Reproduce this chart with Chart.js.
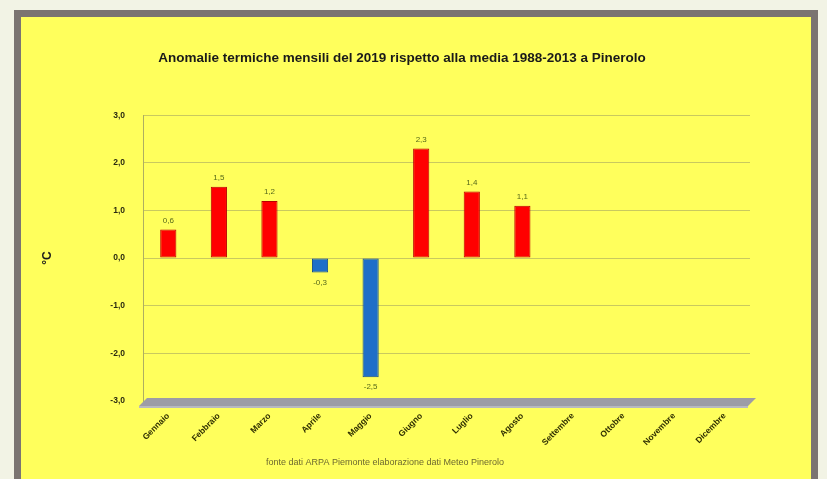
<!DOCTYPE html>
<html lang="it">
<head>
<meta charset="UTF-8">
<title>Anomalie termiche mensili 2019 - Pinerolo</title>
<script src="https://cdn.jsdelivr.net/npm/chart.js"></script>
<style>
    body, html {
        margin: 0;
        padding: 0;
        width: 827px;
        height: 479px;
        background: #f2f3e5;
        overflow: hidden;
    }
    #frame {
        position: absolute;
        left: 14px;
        top: 10px;
        width: 790px;
        height: 480px;
        border: 7px solid #7b7471;
        background: #ffff5c;
    }
    #chart-container {
        position: absolute;
        left: 0;
        top: 0;
        width: 827px;
        height: 479px;
    }
</style>
</head>
<body>

<div id="frame"></div>
<div id="chart-container">
    <canvas id="anomalie"></canvas>
</div>

<script>
    const mesi = ['Gennaio', 'Febbraio', 'Marzo', 'Aprile', 'Maggio', 'Giugno',
                  'Luglio', 'Agosto', 'Settembre', 'Ottobre', 'Novembre', 'Dicembre'];
    const anomalie = [0.6, 1.5, 1.2, -0.3, -2.5, 2.3, 1.4, 1.1, null, null, null, null];
    const yTicks = [-3, -2, -1, 0, 1, 2, 3];

    const fmt = v => v.toFixed(1).replace('.', ',');

    // title sits a bit right of the plot centre in the original
    const titleShift = {
        id: 'titleShift',
        afterLayout(chart) {
            if (chart.titleBlock) {
                chart.titleBlock.left += 12;
                chart.titleBlock.right += 12;
            }
        }
    };

    // gray floor under the plot, like the 3D excel chart
    const floorPlugin = {
        id: 'floor',
        beforeDatasetsDraw(chart) {
            const { ctx, chartArea: a, scales } = chart;
            const yb = scales.y.getPixelForValue(-3);
            ctx.save();
            ctx.fillStyle = '#9d9ca6';
            ctx.beginPath();
            ctx.moveTo(a.left - 4, yb + 5);
            ctx.lineTo(a.left + 4, yb - 3);
            ctx.lineTo(a.right + 6, yb - 3);
            ctx.lineTo(a.right - 2, yb + 5);
            ctx.closePath();
            ctx.fill();
            ctx.fillStyle = '#b8b8c0';
            ctx.fillRect(a.left - 4, yb + 5, a.right - a.left + 2, 2);
            ctx.restore();
        }
    };

    const labelPlugin = {
        id: 'valori',
        afterDatasetsDraw(chart) {
            const { ctx } = chart;
            const meta = chart.getDatasetMeta(0);
            ctx.save();
            ctx.font = '8px "Liberation Sans"';
            ctx.fillStyle = '#56681a';
            ctx.textAlign = 'center';
            meta.data.forEach((bar, i) => {
                const v = anomalie[i];
                if (v === null) return;
                if (v >= 0) {
                    ctx.textBaseline = 'bottom';
                    ctx.fillText(fmt(v), bar.x, bar.y - 5);
                } else {
                    ctx.textBaseline = 'top';
                    ctx.fillText(fmt(v), bar.x, bar.y + 6);
                }
            });
            ctx.restore();
        }
    };

    const footerPlugin = {
        id: 'fonte',
        afterDraw(chart) {
            const { ctx } = chart;
            ctx.save();
            ctx.font = '9px "Liberation Sans"';
            ctx.fillStyle = '#6e6a30';
            ctx.textAlign = 'center';
            ctx.textBaseline = 'middle';
            ctx.fillText('fonte dati ARPA Piemonte elaborazione dati Meteo Pinerolo', 385, 463);
            ctx.restore();
        }
    };

    const ctx = document.getElementById('anomalie').getContext('2d');
    new Chart(ctx, {
        type: 'bar',
        data: {
            labels: mesi,
            datasets: [{
                data: anomalie,
                backgroundColor: anomalie.map(v => v !== null && v < 0 ? '#1f6fc8' : '#ff0000'),
                borderColor: anomalie.map(v => v !== null && v < 0 ? '#144d8c' : '#b80000'),
                borderWidth: 1,
                borderSkipped: false,
                barPercentage: 0.32,
                categoryPercentage: 1
            }]
        },
        options: {
            responsive: true,
            maintainAspectRatio: false,
            animation: false,
            layout: { padding: { left: 30, right: 77, top: 0, bottom: 0 } },
            plugins: {
                legend: { display: false },
                tooltip: { enabled: false },
                title: {
                    display: true,
                    text: 'Anomalie termiche mensili del 2019 rispetto alla media 1988-2013 a Pinerolo',
                    color: '#1a1a1a',
                    font: { family: 'Liberation Sans', size: 13.5, weight: 'bold' },
                    padding: { top: 50, bottom: 49 }
                }
            },
            scales: {
                x: {
                    grid: { display: false },
                    border: { display: false },
                    afterFit(scale) { scale.height = 78; },
                    ticks: {
                        minRotation: 45,
                        maxRotation: 45,
                        padding: 2,
                        color: '#2e2e00',
                        font: { family: 'Liberation Sans', size: 8.5, weight: 'bold' }
                    }
                },
                y: {
                    min: -3,
                    max: 3,
                    afterFit(scale) { scale.width = 113; },
                    afterBuildTicks(scale) { scale.ticks = yTicks.map(v => ({ value: v })); },
                    grid: { color: 'rgba(120,120,100,0.4)', lineWidth: 1, drawTicks: false },
                    border: { display: true, color: 'rgba(120,120,100,0.6)' },
                    title: {
                        display: true,
                        text: '°C',
                        color: '#1a1a1a',
                        font: { family: 'Liberation Sans', size: 12, weight: 'bold' },
                        padding: { top: 10, bottom: 0 }
                    },
                    ticks: {
                        padding: 18,
                        color: '#2a2a10',
                        font: { family: 'Liberation Sans', size: 8.5, weight: 'bold' },
                        callback: v => fmt(v)
                    }
                }
            }
        },
        plugins: [titleShift, floorPlugin, labelPlugin, footerPlugin]
    });
</script>

</body>
</html>
